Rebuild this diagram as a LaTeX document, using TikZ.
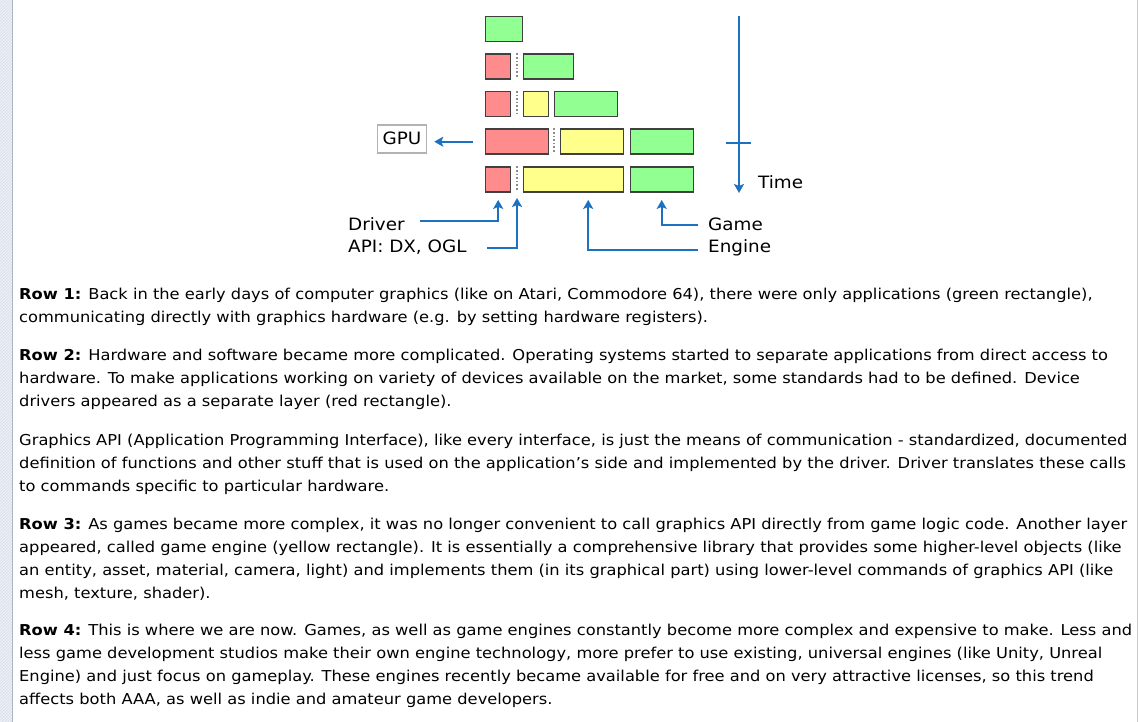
\documentclass[tikz,border=0pt]{standalone}
\usepackage{fontspec}
\setmainfont[FakeStretch=1.085]{DejaVu Sans}
\newfontfamily\lblfont[FakeStretch=1.08]{DejaVu Sans}
\usetikzlibrary{arrows.meta,patterns}
\definecolor{redl}{RGB}{255,140,140}
\definecolor{yell}{RGB}{255,255,140}
\definecolor{grnl}{RGB}{145,255,145}
\definecolor{arrblue}{RGB}{28,114,192}
\definecolor{stripc}{RGB}{222,228,236}
\definecolor{stripl}{RGB}{170,180,195}

\tikzset{
  layer/.style={draw=black!75,line width=1.4pt,fill=#1,minimum height=25pt,inner sep=0pt,anchor=north west},
  sep/.style={black!45,dotted,line width=1.6pt},
  arr/.style={arrblue,line width=2.3pt,-{Stealth[length=9pt,width=10pt,inset=2pt]}},
  lbl/.style={font=\lblfont\fontsize{17}{20}\selectfont,inner sep=0pt,text height=12pt,text depth=0pt},
  para/.style={anchor=base west,align=left,inner sep=0pt,font=\fontsize{15}{23}\selectfont}
}

\begin{document}
\begin{tikzpicture}[x=1pt,y=-1pt]
  \useasboundingbox (0,0) rectangle (1140,722);
  \fill[white] (0,0) rectangle (1140,722);
  % page strip and border
  \fill[stripc] (0,0) rectangle (12,722);
  \fill[pattern=north east lines,pattern color=white!70!stripc] (0,0) rectangle (12,722);
  \draw[stripl,line width=1.5pt] (12.5,0) -- (12.5,722);
  \draw[black!20,line width=1pt] (1137,0) -- (1137,722);

  % rows of layers
  \node[layer=grnl,minimum width=37pt] (g1) at (485,16) {};
  \node[layer=redl,minimum width=25pt] (r2) at (485,53.5) {};
  \node[layer=grnl,minimum width=50pt] (g2) at (523,53.5) {};
  \node[layer=redl,minimum width=25pt] (r3) at (485,91) {};
  \node[layer=yell,minimum width=25pt] (y3) at (523,91) {};
  \node[layer=grnl,minimum width=63pt] (g3) at (554,91) {};
  \node[layer=redl,minimum width=63pt] (r4) at (485,128.5) {};
  \node[layer=yell,minimum width=63pt] (y4) at (560,128.5) {};
  \node[layer=grnl,minimum width=63pt] (g4) at (629.5,128.5) {};
  \node[layer=redl,minimum width=25pt] (r5) at (485,166.5) {};
  \node[layer=yell,minimum width=100pt] (y5) at (523,166.5) {};
  \node[layer=grnl,minimum width=63pt] (g5) at (629.5,166.5) {};
  \foreach \x/\y in {517/53.5,517/91,554/128.5,517/166.5}
    \draw[sep] (\x,\y) -- +(0,25);
  \coordinate (d5) at (517,192);

  % gpu
  \node[lbl,draw=black!30,line width=1.5pt,minimum width=49pt,minimum height=28pt] (gpu) at (402,139) {GPU};
  \draw[arr,shorten <=12pt,shorten >=7pt] (r4.west) -- (r4.west -| gpu.east);

  % time axis
  \coordinate (t0) at (739,16); \coordinate (t1) at (739,193); \coordinate (tk) at (739,143);
  \draw[arr] (t0) -- (t1);
  \draw[arrblue,line width=2.3pt] ([xshift=-13pt]tk) -- ([xshift=12pt]tk);
  \node[lbl,anchor=base west] (time) at (758,188.3) {Time};

  % labels below
  \node[lbl,anchor=base west] (drv) at (348,230.7) {Driver};
  \node[lbl,anchor=base west] (api) at (348,252.3) {API: DX, OGL};
  \node[lbl,anchor=base west] (game) at (708,230.7) {Game};
  \node[lbl,anchor=base west] (eng) at (708,252.3) {Engine};
  \draw[arr] ([shift={(15pt,3.5pt)}]drv.east) -| ([yshift=-7pt]r5.south);
  \draw[arr] ([shift={(20pt,-1.5pt)}]api.east) -| ([yshift=-6pt]d5);
  \draw[arr] ([xshift=-10pt]game.west) -| ([yshift=-7pt]g5.south);
  \draw[arr] ([shift={(-10pt,-3.5pt)}]eng.west) -| ([shift={(14.5pt,-7pt)}]y5.south);

  % text (base = last line)
  \node[para] (p1) at (19,322.3) {\textbf{Row 1:} Back in the early days of computer graphics (like on Atari, Commodore 64), there were only applications (green rectangle),\\
    communicating directly with graphics hardware (e.g. by setting hardware registers).};
  \node[para] (p2) at (19,406) {\textbf{Row 2:} Hardware and software became more complicated. Operating systems started to separate applications from direct access to\\
    hardware. To make applications working on variety of devices available on the market, some standards had to be defined. Device\\
    drivers appeared as a separate layer (red rectangle).};
  \node[para] (p3) at (19,491) {Graphics API (Application Programming Interface), like every interface, is just the means of communication - standardized, documented\\
    definition of functions and other stuff that is used on the application's side and implemented by the driver. Driver translates these calls\\
    to commands specific to particular hardware.};
  \node[para] (p4) at (19,598.3) {\textbf{Row 3:} As games became more complex, it was no longer convenient to call graphics API directly from game logic code. Another layer\\
    appeared, called game engine (yellow rectangle). It is essentially a comprehensive library that provides some higher-level objects (like\\
    an entity, asset, material, camera, light) and implements them (in its graphical part) using lower-level commands of graphics API (like\\
    mesh, texture, shader).};
  \node[para] (p5) at (19,704) {\textbf{Row 4:} This is where we are now. Games, as well as game engines constantly become more complex and expensive to make. Less and\\
    less game development studios make their own engine technology, more prefer to use existing, universal engines (like Unity, Unreal\\
    Engine) and just focus on gameplay. These engines recently became available for free and on very attractive licenses, so this trend\\
    affects both AAA, as well as indie and amateur game developers.};
\end{tikzpicture}
\end{document}
